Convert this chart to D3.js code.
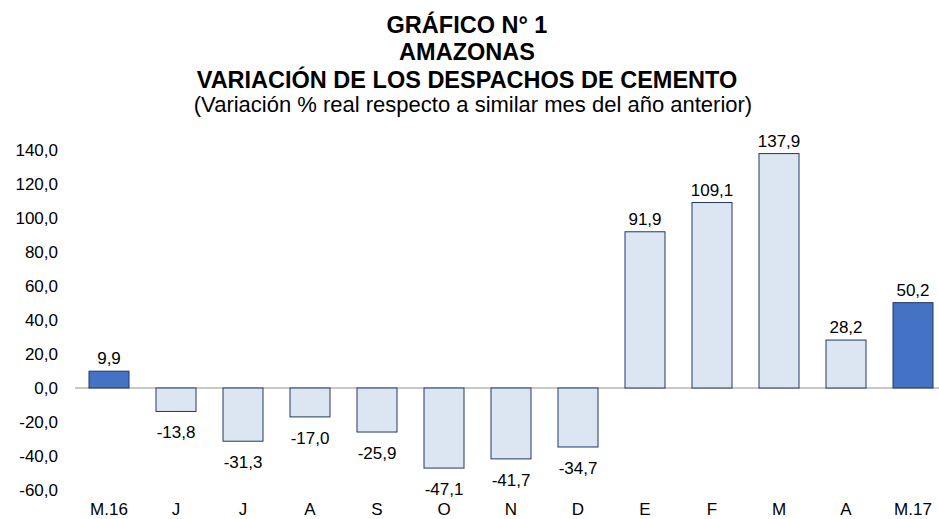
<!DOCTYPE html>
<html><head><meta charset="utf-8">
<script src="https://cdn.jsdelivr.net/npm/d3@7"></script>
<style>body{margin:0;background:#fff}svg{display:block;font-family:"Liberation Sans",Arial,sans-serif}</style>
</head><body>
<svg id="c" width="939" height="519"></svg>
<script>
const categories = ["M.16","J","J","A","S","O","N","D","E","F","M","A","M.17"];
const values = [9.9,-13.8,-31.3,-17.0,-25.9,-47.1,-41.7,-34.7,91.9,109.1,137.9,28.2,50.2];
const highlight = [true,false,false,false,false,false,false,false,false,false,false,false,true];
const yTicks = [-60,-40,-20,0,20,40,60,80,100,120,140];
const titles = ["GRÁFICO N° 1","AMAZONAS","VARIACIÓN DE LOS DESPACHOS DE CEMENTO"];
const subtitle = "(Variación % real respecto a similar mes del año anterior)";

const svg = d3.select("#c");
const fmt = v => d3.format(".1f")(v).replace(".", ",").replace("\u2212", "-");
const x = d3.scaleBand().domain(d3.range(categories.length)).range([75.5, 946.5]).paddingInner(0.403).paddingOuter(0.2015);
const y = d3.scaleLinear().domain([-60, 140]).range([490, 150]);

const tY = [33, 60, 88];
titles.forEach((t, i) => svg.append("text").attr("x", 467).attr("y", tY[i]).attr("text-anchor", "middle")
  .attr("font-weight", "bold").attr("font-size", 23.5).attr("fill", "#000").text(t));
svg.append("text").attr("x", 473).attr("y", 112).attr("text-anchor", "middle").attr("font-size", 22).attr("fill", "#000").text(subtitle);

svg.append("g").selectAll("text").data(yTicks).join("text")
  .attr("x", 58).attr("y", d => y(d)).attr("dy", "0.35em").attr("text-anchor", "end")
  .attr("font-size", 17).attr("fill", "#000").text(fmt);

svg.append("line").attr("x1", 75).attr("x2", 939).attr("y1", y(0)).attr("y2", y(0))
  .attr("stroke", "#c8c8c8").attr("stroke-width", 2);

svg.append("g").selectAll("rect").data(values).join("rect")
  .attr("x", (d, i) => x(i)).attr("width", x.bandwidth())
  .attr("y", d => y(Math.max(0, d))).attr("height", d => Math.abs(y(d) - y(0)))
  .attr("fill", (d, i) => highlight[i] ? "#4472c4" : "#dce6f2")
  .attr("stroke", "#1f3864").attr("stroke-width", 1);

svg.append("g").selectAll("text").data(values).join("text")
  .attr("x", (d, i) => x(i) + x.bandwidth() / 2)
  .attr("y", d => d >= 0 ? y(d) - 7 : y(d) + 27)
  .attr("text-anchor", "middle").attr("font-size", 17).attr("fill", "#000").text(fmt);

svg.append("g").selectAll("text").data(categories).join("text")
  .attr("x", (d, i) => x(i) + x.bandwidth() / 2).attr("y", 515)
  .attr("text-anchor", "middle").attr("font-size", 17).attr("fill", "#000").text(d => d);
</script>
</body></html>
